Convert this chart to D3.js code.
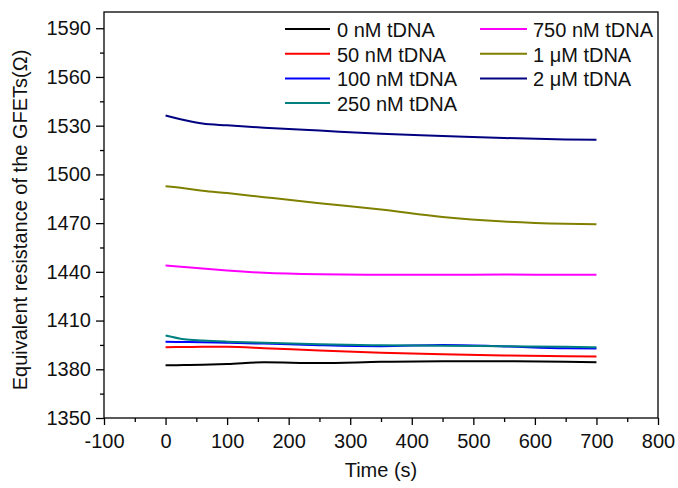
<!DOCTYPE html>
<html>
<head>
<meta charset="utf-8">
<script src="https://cdn.jsdelivr.net/npm/d3@7"></script>
<style>
  body { margin: 0; background: #fff; }
  svg text { font-family: Arial, "Liberation Sans", sans-serif; }
</style>
</head>
<body>
<div id="chart"></div>
<script>
// data ------------------------------------------------------------------
const times = [0, 30, 60, 100, 160, 250, 350, 450, 550, 650, 700];
const seriesNames = ['0 nM tDNA', '50 nM tDNA', '100 nM tDNA', '250 nM tDNA', '750 nM tDNA', '1 \u03bcM tDNA', '2 \u03bcM tDNA'];
const seriesColors = ['#000000', '#ff0000', '#0000ff', '#008080', '#ff00ff', '#808000', '#000080'];
const r0nM   = [1382.5, 1382.6, 1382.8, 1383.2, 1384.3, 1383.8, 1384.6, 1385.0, 1385.0, 1384.7, 1384.4];
const r50nM  = [1393.6, 1393.7, 1393.9, 1393.8, 1393.0, 1391.5, 1390.2, 1389.2, 1388.5, 1388.0, 1387.8];
const r100nM = [1396.9, 1396.8, 1396.6, 1396.3, 1395.8, 1394.8, 1394.2, 1395.0, 1394.1, 1393.0, 1392.8];
const r250nM = [1400.8, 1398.5, 1397.7, 1397.0, 1396.3, 1395.4, 1394.8, 1394.5, 1394.2, 1393.8, 1393.6];
const r750nM = [1443.9, 1443.0, 1442.0, 1440.8, 1439.4, 1438.5, 1438.2, 1438.2, 1438.3, 1438.2, 1438.2];
const r1uM   = [1492.7, 1491.5, 1490.0, 1488.5, 1486.0, 1482.3, 1478.4, 1473.8, 1471.0, 1469.6, 1469.3];
const r2uM   = [1536.3, 1533.5, 1531.3, 1530.2, 1528.8, 1527.0, 1525.0, 1523.7, 1522.4, 1521.5, 1521.3];
const seriesValues = [r0nM, r50nM, r100nM, r250nM, r750nM, r1uM, r2uM];
const xTicks = [-100, 0, 100, 200, 300, 400, 500, 600, 700, 800];
const yTicks = [1350, 1380, 1410, 1440, 1470, 1500, 1530, 1560, 1590];

// size ------------------------------------------------------------------
const width = 678, height = 488;
const margin = { top: 12, right: 20, bottom: 70, left: 104 };
const fontSize = '20px';

const svg = d3.select('#chart').append('svg')
  .attr('width', width)
  .attr('height', height);

const xScale = d3.scaleLinear()
  .domain([-100, 800])
  .range([margin.left, width - margin.right]);
const yScale = d3.scaleLinear()
  .domain([1350, 1600])
  .range([height - margin.bottom, margin.top]);

// minor ticks -----------------------------------------------------------
const xMinor = d3.range(-50, 800, 100);
const yMinor = d3.range(1365, 1600, 30);
svg.append('g')
  .attr('transform', 'translate(0,' + (height - margin.bottom) + ')')
  .call(d3.axisBottom(xScale).tickValues(xMinor).tickSize(4).tickFormat(''))
  .call(g => g.select('.domain').remove())
  .selectAll('line').attr('stroke-width', 1.3);
svg.append('g')
  .attr('transform', 'translate(' + margin.left + ',0)')
  .call(d3.axisLeft(yScale).tickValues(yMinor).tickSize(4).tickFormat(''))
  .call(g => g.select('.domain').remove())
  .selectAll('line').attr('stroke-width', 1.3);

// major axes ------------------------------------------------------------
const gX = svg.append('g')
  .attr('transform', 'translate(0,' + (height - margin.bottom) + ')')
  .call(d3.axisBottom(xScale).tickValues(xTicks).tickSize(7).tickPadding(9).tickFormat(d => String(d)));
gX.select('.domain').remove();
const gY = svg.append('g')
  .attr('transform', 'translate(' + margin.left + ',0)')
  .call(d3.axisLeft(yScale).tickValues(yTicks).tickSize(8).tickPadding(5).tickFormat(d => String(d)));
gY.select('.domain').remove();
svg.selectAll('.tick line').attr('stroke-width', 1.3);
svg.selectAll('.tick text')
  .attr('font-size', fontSize)
  .attr('font-family', 'Arial, "Liberation Sans", sans-serif')
  .attr('fill', '#111');

// frame -----------------------------------------------------------------
svg.append('rect')
  .attr('x', margin.left)
  .attr('y', margin.top)
  .attr('width', width - margin.left - margin.right)
  .attr('height', height - margin.top - margin.bottom)
  .attr('fill', 'none')
  .attr('stroke', '#000')
  .attr('stroke-width', 1.3);

// lines -----------------------------------------------------------------
const line = d3.line()
  .x((d, i) => xScale(times[i]))
  .y(d => yScale(d))
  .curve(d3.curveMonotoneX);
svg.append('g')
  .selectAll('path')
  .data(seriesValues)
  .enter()
  .append('path')
  .attr('d', d => line(d))
  .attr('fill', 'none')
  .attr('stroke', (d, i) => seriesColors[i])
  .attr('stroke-width', 2);

// legend ----------------------------------------------------------------
const legendCols = [{ x1: 285, x2: 330, tx: 337 }, { x1: 480, x2: 527, tx: 533 }];
const legend = svg.append('g')
  .selectAll('g')
  .data(seriesNames)
  .enter()
  .append('g')
  .attr('transform', (d, i) => {
    const row = i < 4 ? i : i - 4;
    return 'translate(0,' + (37 + row * 24.7) + ')';
  });
legend.append('line')
  .attr('x1', (d, i) => legendCols[i < 4 ? 0 : 1].x1)
  .attr('x2', (d, i) => legendCols[i < 4 ? 0 : 1].x2)
  .attr('y1', -8)
  .attr('y2', -8)
  .attr('stroke', (d, i) => seriesColors[i])
  .attr('stroke-width', 2);
legend.append('text')
  .attr('x', (d, i) => legendCols[i < 4 ? 0 : 1].tx)
  .attr('y', 0)
  .attr('font-size', fontSize)
  .attr('fill', '#111')
  .text(d => d);

// axis titles -----------------------------------------------------------
svg.append('text')
  .attr('x', (margin.left + width - margin.right) / 2)
  .attr('y', 477)
  .attr('text-anchor', 'middle')
  .attr('font-size', fontSize)
  .attr('fill', '#111')
  .text('Time (s)');
svg.append('text')
  .attr('transform', 'translate(27,' + 220 + ') rotate(-90)')
  .attr('text-anchor', 'middle')
  .attr('font-size', fontSize)
  .attr('fill', '#111')
  .text('Equivalent resistance of the GFETs(\u03a9)');
</script>
</body>
</html>
